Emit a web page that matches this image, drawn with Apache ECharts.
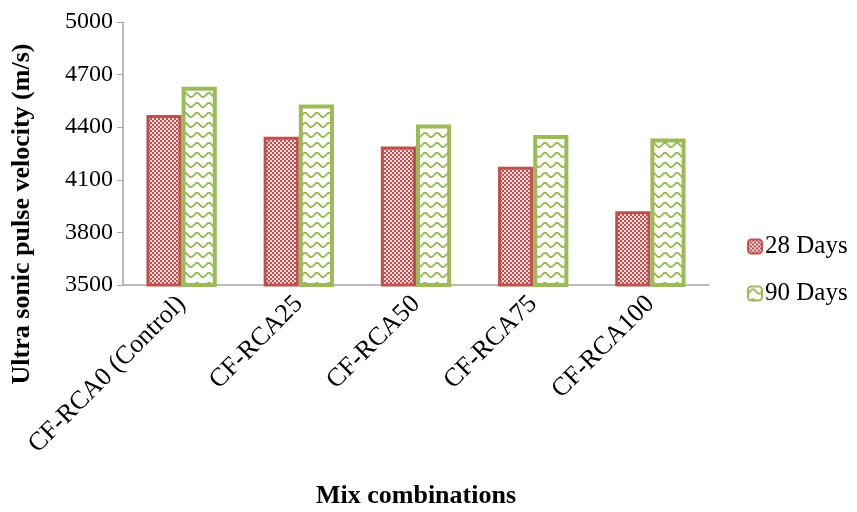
<!DOCTYPE html>
<html>
<head>
<meta charset="utf-8">
<script src="https://cdn.jsdelivr.net/npm/echarts@6/dist/echarts.min.js"></script>
<style>
  html, body { margin: 0; padding: 0; background: #fff; }
  #chart { width: 857px; height: 512px; }
</style>
</head>
<body>
<div id="chart"></div>
<script>
// Mix designs and ultrasonic pulse velocity (m/s)
const categories = ['CF-RCA0 (Control)', 'CF-RCA25', 'CF-RCA50', 'CF-RCA75', 'CF-RCA100'];
const days28 = [4470, 4345, 4290, 4175, 3920];
const days90 = [4630, 4530, 4415, 4355, 4335];
const seriesNames = ['28 Days', '90 Days'];
const yTicks = { min: 3500, max: 5000, step: 300 };

const RED = '#c0504d';
const GREEN = '#9bbb59';
const FONT = '"Liberation Serif", "Times New Roman", serif';

// Fine checkerboard fill for the 28-day bars
function checkerPattern() {
  const c = document.createElement('canvas');
  c.width = 4; c.height = 4;
  const g = c.getContext('2d');
  g.fillStyle = '#f6dcdc';
  g.fillRect(0, 0, 4, 4);
  g.fillStyle = RED;
  g.fillRect(0, 0, 2, 2);
  g.fillRect(2, 2, 2, 2);
  return c;
}

// Zig-zag line fill for the 90-day bars
function zigzagPattern() {
  const c = document.createElement('canvas');
  c.width = 12; c.height = 10;
  const g = c.getContext('2d');
  g.fillStyle = '#ffffff';
  g.fillRect(0, 0, 12, 10);
  g.strokeStyle = GREEN;
  g.lineWidth = 1.8;
  g.beginPath();
  g.moveTo(0, 7);
  g.lineTo(4, 3);
  g.lineTo(6, 3);
  g.lineTo(10, 7);
  g.lineTo(12, 7);
  g.stroke();
  return c;
}

const chart = echarts.init(document.getElementById('chart'), null, { renderer: 'canvas' });

chart.setOption({
  animation: false,
  backgroundColor: '#ffffff',
  grid: { left: 123, right: 148, top: 22, bottom: 227, containLabel: false },
  legend: {
    orient: 'vertical',
    left: 742,
    top: 229,
    itemWidth: 14,
    itemHeight: 14,
    itemGap: 22,
    textStyle: { fontFamily: FONT, fontSize: 25, color: '#000', padding: [0, 0, 0, -2] },
    data: seriesNames
  },
  xAxis: {
    type: 'category',
    data: categories,
    axisLine: { lineStyle: { color: '#a6a6a6', width: 1.5 } },
    axisTick: { show: false },
    axisLabel: {
      rotate: 45,
      margin: 15,
      interval: 0,
      fontFamily: FONT,
      fontSize: 26,
      color: '#000'
    }
  },
  yAxis: {
    type: 'value',
    min: yTicks.min,
    max: yTicks.max,
    interval: yTicks.step,
    axisLine: { show: true, lineStyle: { color: '#a6a6a6', width: 1.5 } },
    axisTick: { show: true, length: 6, lineStyle: { color: '#a6a6a6' } },
    splitLine: { show: false },
    axisLabel: {
      margin: 10,
      fontFamily: FONT,
      fontSize: 24,
      color: '#000',
      formatter: v => String(v)
    }
  },
  series: [
    {
      name: seriesNames[0],
      type: 'bar',
      data: days28,
      barGap: '0%',
      barCategoryGap: '40%',
      itemStyle: {
        color: { image: checkerPattern(), repeat: 'repeat' },
        borderColor: RED,
        borderWidth: 3
      }
    },
    {
      name: seriesNames[1],
      type: 'bar',
      data: days90,
      barGap: '0%',
      barCategoryGap: '40%',
      itemStyle: {
        color: { image: zigzagPattern(), repeat: 'repeat' },
        borderColor: GREEN,
        borderWidth: 4
      }
    }
  ],
  graphic: [
    {
      type: 'text',
      x: 22,
      y: 214,
      rotation: Math.PI / 2,
      style: {
        text: 'Ultra sonic pulse velocity (m/s)',
        fontFamily: FONT,
        fontSize: 26,
        fontWeight: 'bold',
        fill: '#000',
        textAlign: 'center',
        textVerticalAlign: 'middle'
      }
    },
    {
      type: 'text',
      x: 416,
      y: 496,
      style: {
        text: 'Mix combinations',
        fontFamily: FONT,
        fontSize: 26,
        fontWeight: 'bold',
        fill: '#000',
        textAlign: 'center',
        textVerticalAlign: 'middle'
      }
    }
  ]
});
</script>
</body>
</html>
